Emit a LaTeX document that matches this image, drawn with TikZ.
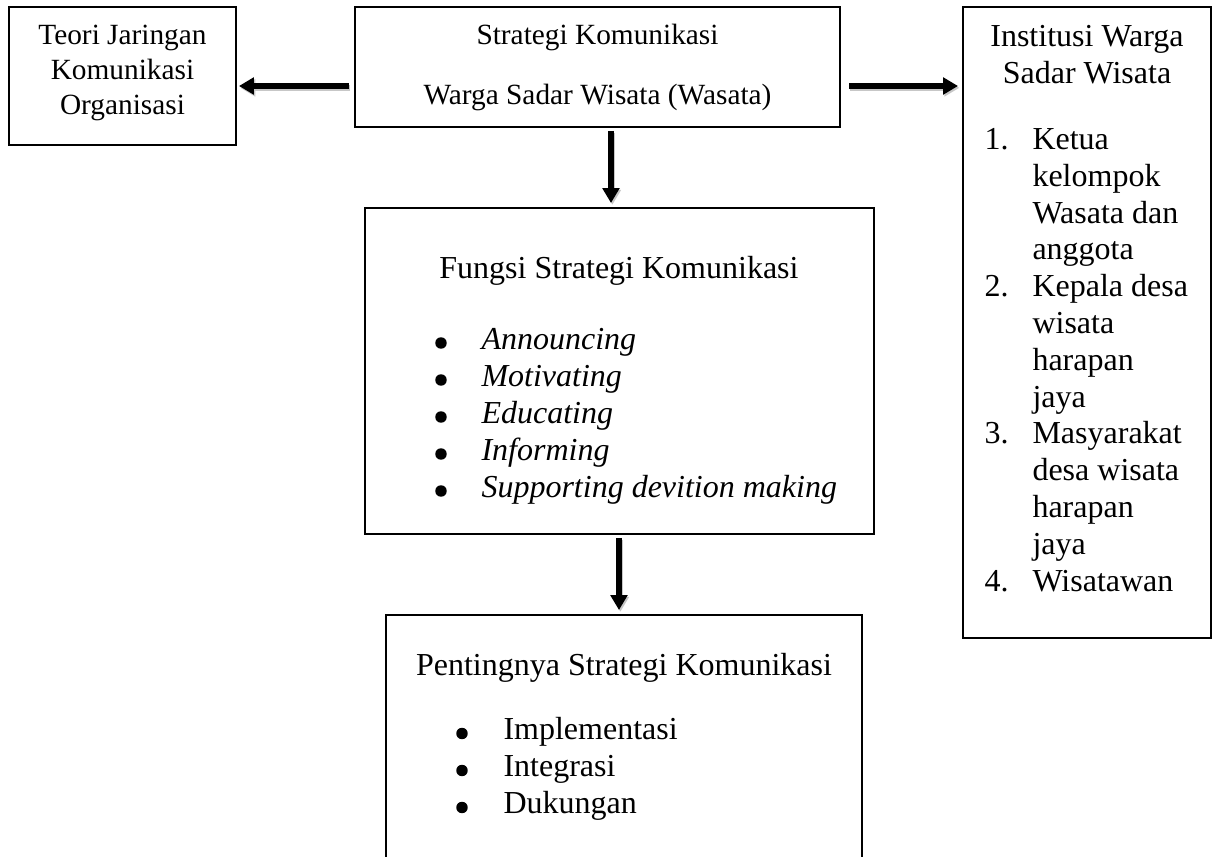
\documentclass[tikz,border=0pt]{standalone}
\usepackage{fontspec}
\setmainfont{Liberation Serif}
\usetikzlibrary{arrows.meta}
\tikzset{
  box/.style={draw=black, line width=0.75pt, rectangle, inner sep=0pt},
  arr/.style={line width=2pt, -{Triangle[length=5.6pt,width=6.2pt]}},
  arrshadow/.style={arr, draw=black!22, fill=black!22, transform canvas={xshift=0.5pt,yshift=-0.7pt}},
  txt/.style={inner sep=0pt, font=\fontsize{12}{13.8}\selectfont},
  stxt/.style={inner sep=0pt, font=\fontsize{11}{12.65}\selectfont},
  dot/.style={circle, fill=black, draw=none, inner sep=0pt, minimum size=4.3pt},
}
\begin{document}
\begin{tikzpicture}[x=0.375pt,y=-0.375pt]
\useasboundingbox (0,0) rectangle (1213,857);
\clip (0,0) rectangle (1213,857);

% boxes
\node[box, minimum width=85.125pt, minimum height=51.75pt] (teori) at (122.5,76) {};
\node[box, minimum width=181.875pt, minimum height=45pt] (strat) at (597.5,67) {};
\node[box, minimum width=190.875pt, minimum height=122.25pt] (fungsi) at (619.5,371) {};
\node[box, minimum width=178.5pt, minimum height=106.875pt] (pent) at (624,757.5) {};
\node[box, minimum width=93pt, minimum height=236.625pt] (inst) at (1087,322.5) {};

% box 1 text
\node[stxt, anchor=base] (t1) at (122.5,45) {Teori Jaringan};
\node[stxt, anchor=base] (t2) at (122.5,80) {Komunikasi};
\node[stxt, anchor=base] (t3) at (122.5,115) {Organisasi};

% box 2 text
\node[stxt, anchor=base] (s1) at (597.5,45) {Strategi Komunikasi};
\node[stxt, anchor=base] (s2) at (597.5,105) {Warga Sadar Wisata (Wasata)};

% box 3 text
\node[txt, anchor=base] (f0) at (619,279) {Fungsi Strategi Komunikasi};
\foreach \t [count=\i] in {Announcing, Motivating, Educating, Informing, Supporting devition making} {
  \node[dot] (fb\i) at (441,{343+37*(\i-1)}) {};
  \node[txt, anchor=base west] (fi\i) at (481,{349.5+37*(\i-1)}) {\itshape \t};
}

% box 4 text
\node[txt, anchor=base] (p0) at (624,676) {Pentingnya Strategi Komunikasi};
\foreach \t [count=\i] in {Implementasi, Integrasi, Dukungan} {
  \node[dot] (pb\i) at (462,{733.5+37*(\i-1)}) {};
  \node[txt, anchor=base west] (pi\i) at (503,{740+37*(\i-1)}) {\t};
}

% box 5 text
\node[txt, anchor=base] (i0) at (1087,47) {Institusi Warga};
\node[txt, anchor=base] (i00) at (1087,84) {Sadar Wisata};
\foreach \t [count=\i] in {Ketua, kelompok, Wasata dan, anggota, Kepala desa, wisata, harapan, jaya, Masyarakat, desa wisata, harapan, jaya, Wisatawan} {
  \node[txt, anchor=base west] (il\i) at (1032,{149.5+36.8*(\i-1)}) {\t};
}
\foreach \n/\k in {1/0, 2/4, 3/8, 4/12} {
  \node[txt, anchor=base west] (in\n) at (984,{149.5+36.8*\k}) {\n.};
}

% connectors
\coordinate (ya) at (0,86);
\coordinate (xa) at (611,0);
\coordinate (xb) at (619,0);
\draw[arrshadow] ([xshift=-1.875pt]strat.west |- ya) -- ([xshift=0.75pt]teori.east |- ya);
\draw[arrshadow] ([xshift=3pt]strat.east |- ya) -- ([xshift=-1.5pt]inst.west |- ya);
\draw[arrshadow] ([yshift=-1.125pt]strat.south -| xa) -- ([yshift=1.5pt]fungsi.north -| xa);
\draw[arrshadow] ([yshift=-1.125pt]fungsi.south -| xb) -- ([yshift=1.5pt]pent.north -| xb);
\draw[arr] ([xshift=-1.875pt]strat.west |- ya) -- ([xshift=0.75pt]teori.east |- ya);
\draw[arr] ([xshift=3pt]strat.east |- ya) -- ([xshift=-1.5pt]inst.west |- ya);
\draw[arr] ([yshift=-1.125pt]strat.south -| xa) -- ([yshift=1.5pt]fungsi.north -| xa);
\draw[arr] ([yshift=-1.125pt]fungsi.south -| xb) -- ([yshift=1.5pt]pent.north -| xb);
\end{tikzpicture}
\end{document}
